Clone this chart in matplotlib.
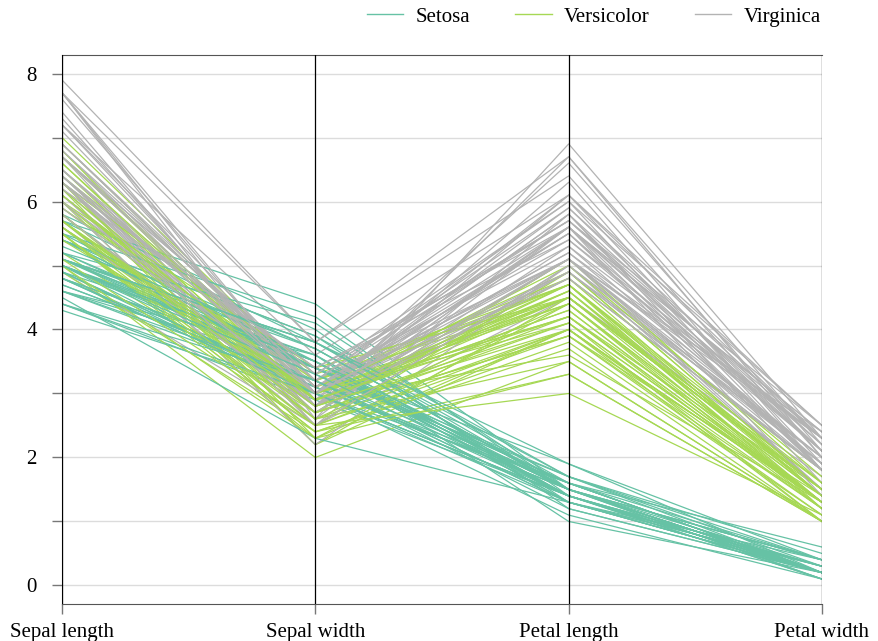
import matplotlib
matplotlib.use("Agg")
import matplotlib.pyplot as plt
from matplotlib.ticker import MultipleLocator
from matplotlib.lines import Line2D

plt.rcParams['font.family'] = ['Liberation Serif', 'DejaVu Serif']

columns = ["Sepal length", "Sepal width", "Petal length", "Petal width"]
species_names = ["Setosa", "Versicolor", "Virginica"]
species_colors = ["#66c2a5", "#a6d854", "#b3b3b3"]

setosa = [
    [5.1,3.5,1.4,0.2],[4.9,3.0,1.4,0.2],[4.7,3.2,1.3,0.2],[4.6,3.1,1.5,0.2],[5.0,3.6,1.4,0.2],
    [5.4,3.9,1.7,0.4],[4.6,3.4,1.4,0.3],[5.0,3.4,1.5,0.2],[4.4,2.9,1.4,0.2],[4.9,3.1,1.5,0.1],
    [5.4,3.7,1.5,0.2],[4.8,3.4,1.6,0.2],[4.8,3.0,1.4,0.1],[4.3,3.0,1.1,0.1],[5.8,4.0,1.2,0.2],
    [5.7,4.4,1.5,0.4],[5.4,3.9,1.3,0.4],[5.1,3.5,1.4,0.3],[5.7,3.8,1.7,0.3],[5.1,3.8,1.5,0.3],
    [5.4,3.4,1.7,0.2],[5.1,3.7,1.5,0.4],[4.6,3.6,1.0,0.2],[5.1,3.3,1.7,0.5],[4.8,3.4,1.9,0.2],
    [5.0,3.0,1.6,0.2],[5.0,3.4,1.6,0.4],[5.2,3.5,1.5,0.2],[5.2,3.4,1.4,0.2],[4.7,3.2,1.6,0.2],
    [4.8,3.1,1.6,0.2],[5.4,3.4,1.5,0.4],[5.2,4.1,1.5,0.1],[5.5,4.2,1.4,0.2],[4.9,3.1,1.5,0.2],
    [5.0,3.2,1.2,0.2],[5.5,3.5,1.3,0.2],[4.9,3.6,1.4,0.1],[4.4,3.0,1.3,0.2],[5.1,3.4,1.5,0.2],
    [5.0,3.5,1.3,0.3],[4.5,2.3,1.3,0.3],[4.4,3.2,1.3,0.2],[5.0,3.5,1.6,0.6],[5.1,3.8,1.9,0.4],
    [4.8,3.0,1.4,0.3],[5.1,3.8,1.6,0.2],[4.6,3.2,1.4,0.2],[5.3,3.7,1.5,0.2],[5.0,3.3,1.4,0.2],
]
versicolor = [
    [7.0,3.2,4.7,1.4],[6.4,3.2,4.5,1.5],[6.9,3.1,4.9,1.5],[5.5,2.3,4.0,1.3],[6.5,2.8,4.6,1.5],
    [5.7,2.8,4.5,1.3],[6.3,3.3,4.7,1.6],[4.9,2.4,3.3,1.0],[6.6,2.9,4.6,1.3],[5.2,2.7,3.9,1.4],
    [5.0,2.0,3.5,1.0],[5.9,3.0,4.2,1.5],[6.0,2.2,4.0,1.0],[6.1,2.9,4.7,1.4],[5.6,2.9,3.6,1.3],
    [6.7,3.1,4.4,1.4],[5.6,3.0,4.5,1.5],[5.8,2.7,4.1,1.0],[6.2,2.2,4.5,1.5],[5.6,2.5,3.9,1.1],
    [5.9,3.2,4.8,1.8],[6.1,2.8,4.0,1.3],[6.3,2.5,4.9,1.5],[6.1,2.8,4.7,1.2],[6.4,2.9,4.3,1.3],
    [6.6,3.0,4.4,1.4],[6.8,2.8,4.8,1.4],[6.7,3.0,5.0,1.7],[6.0,2.9,4.5,1.5],[5.7,2.6,3.5,1.0],
    [5.5,2.4,3.8,1.1],[5.5,2.4,3.7,1.0],[5.8,2.7,3.9,1.2],[6.0,2.7,5.1,1.6],[5.4,3.0,4.5,1.5],
    [6.0,3.4,4.5,1.6],[6.7,3.1,4.7,1.5],[6.3,2.3,4.4,1.3],[5.6,3.0,4.1,1.3],[5.5,2.5,4.0,1.3],
    [5.5,2.6,4.4,1.2],[6.1,3.0,4.6,1.4],[5.8,2.6,4.0,1.2],[5.0,2.3,3.3,1.0],[5.6,2.7,4.2,1.3],
    [5.7,3.0,4.2,1.2],[5.7,2.9,4.2,1.3],[6.2,2.9,4.3,1.3],[5.1,2.5,3.0,1.1],[5.7,2.8,4.1,1.3],
]
virginica = [
    [6.3,3.3,6.0,2.5],[5.8,2.7,5.1,1.9],[7.1,3.0,5.9,2.1],[6.3,2.9,5.6,1.8],[6.5,3.0,5.8,2.2],
    [7.6,3.0,6.6,2.1],[4.9,2.5,4.5,1.7],[7.3,2.9,6.3,1.8],[6.7,2.5,5.8,1.8],[7.2,3.6,6.1,2.5],
    [6.5,3.2,5.1,2.0],[6.4,2.7,5.3,1.9],[6.8,3.0,5.5,2.1],[5.7,2.5,5.0,2.0],[5.8,2.8,5.1,2.4],
    [6.4,3.2,5.3,2.3],[6.5,3.0,5.5,1.8],[7.7,3.8,6.7,2.2],[7.7,2.6,6.9,2.3],[6.0,2.2,5.0,1.5],
    [6.9,3.2,5.7,2.3],[5.6,2.8,4.9,2.0],[7.7,2.8,6.7,2.0],[6.3,2.7,4.9,1.8],[6.7,3.3,5.7,2.1],
    [7.2,3.2,6.0,1.8],[6.2,2.8,4.8,1.8],[6.1,3.0,4.9,1.8],[6.4,2.8,5.6,2.1],[7.2,3.0,5.8,1.6],
    [7.4,2.8,6.1,1.9],[7.9,3.8,6.4,2.0],[6.4,2.8,5.6,2.2],[6.3,2.8,5.1,1.5],[6.1,2.6,5.6,1.4],
    [7.7,3.0,6.1,2.3],[6.3,3.4,5.6,2.4],[6.4,3.1,5.5,1.8],[6.0,3.0,4.8,1.8],[6.9,3.1,5.4,2.1],
    [6.7,3.1,5.6,2.4],[6.9,3.1,5.1,2.3],[5.8,2.7,5.1,1.9],[6.8,3.2,5.9,2.3],[6.7,3.3,5.7,2.5],
    [6.7,3.0,5.2,2.3],[6.3,2.5,5.0,1.9],[6.5,3.0,5.2,2.0],[6.2,3.4,5.4,2.3],[5.9,3.0,5.1,1.8],
]
groups = [setosa, versicolor, virginica]

fig = plt.figure(figsize=(8.79, 6.41), dpi=100)
ax = fig.add_axes([62/879, 1-604/641, (822-62)/879, (604-55)/641])

xs = list(range(len(columns)))
# interleave the species so the lines overlap in a mixed order
for i in range(len(setosa)):
    for rows, color in zip(groups, species_colors):
        ax.plot(xs, rows[i], color=color, linewidth=0.9, zorder=2)

for x in xs:
    ax.axvline(x, color="black", linewidth=0.9, zorder=3)

ax.set_xlim(0, len(columns)-1)
ax.set_ylim(-0.29, 8.29)
ax.set_xticks(xs)
ax.set_xticklabels(columns, fontsize=15)
ax.yaxis.set_major_locator(MultipleLocator(2))
ax.yaxis.set_minor_locator(MultipleLocator(1))
ax.tick_params(axis="y", which="both", length=7, width=1, color="#777777", labelsize=15, pad=11)
ax.tick_params(axis="x", length=7, width=1, color="#777777", labelsize=15, pad=7)
ax.grid(axis="y", which="both", color="#dcdcdc", linewidth=1, zorder=0)
ax.set_axisbelow(True)
for s in ["left", "bottom", "top"]:
    ax.spines[s].set_color("#555555")
ax.spines["right"].set_visible(False)

handles = [Line2D([0], [0], color=c, linewidth=1) for c in species_colors]
fig.legend(handles, species_names, ncol=3, frameon=False, fontsize=15,
           loc="center right", bbox_to_anchor=(821/879, 1-17/641),
           borderaxespad=0, borderpad=0,
           handlelength=1.75, handletextpad=0.6, columnspacing=2.15)

fig.savefig("out.png", dpi=100)
